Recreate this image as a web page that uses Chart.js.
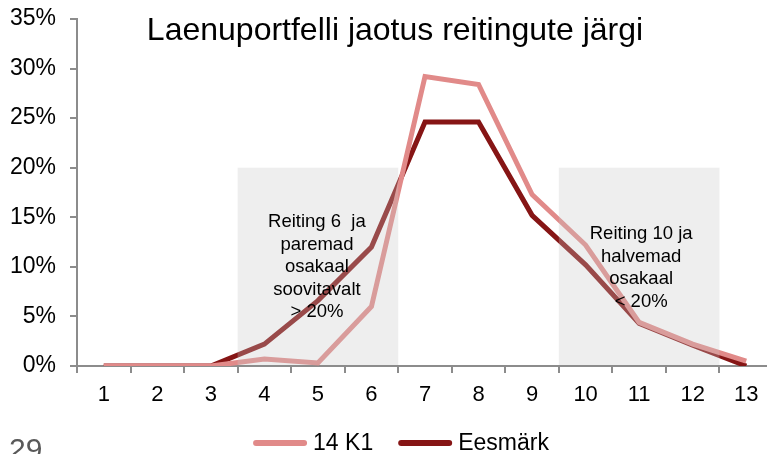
<!DOCTYPE html>
<html>
<head>
<meta charset="utf-8">
<style>
	html, body { margin: 0; padding: 0; background: #fff; overflow: hidden; }
	#chart { display: block; }
</style>
<script src="https://cdn.jsdelivr.net/npm/chart.js@4/dist/chart.umd.min.js"></script>
</head>
<body>
<canvas id="chart" width="775" height="454"></canvas>
<script>
// reitingud
var ratings = ['1','2','3','4','5','6','7','8','9','10','11','12','13'];
// osakaal, %
var k1 = [0, 0, 0, 0.7, 0.3, 6.0, 29.2, 28.4, 17.3, 12.2, 4.4, 2.2, 0.5];
var eesmark = [0, 0, 0, 2.2, 6.6, 12.0, 24.6, 24.6, 15.2, 10.2, 4.3, 2.1, 0];
var yTicks = [0, 5, 10, 15, 20, 25, 30, 35];
// hallid alad: reitingute vahemik ja ülemine piir (%)
var bandFrom = [3.5, 9.5];
var bandTo = [6.5, 12.5];
var bandTop = 20;
var bandText = [
	['Reiting 6  ja', 'paremad', 'osakaal', 'soovitavalt', '> 20%'],
	['Reiting 10 ja', 'halvemad', 'osakaal', '< 20%']
];
var title = 'Laenuportfelli jaotus reitingute järgi';
var pageNo = '29';

var FONT = '"Liberation Sans", Arial, sans-serif';

var overlay = {
	id: 'overlay',
	afterDatasetsDraw: function(chart) {
		var ctx = chart.ctx, x = chart.scales.x, y = chart.scales.y;
		ctx.save();
		for (var i = 0; i < bandFrom.length; i++) {
			var l = x.getPixelForValue(bandFrom[i] - 1);
			var r = x.getPixelForValue(bandTo[i] - 1);
			var t = y.getPixelForValue(bandTop);
			var b = y.getPixelForValue(0);
			ctx.fillStyle = 'rgba(200,200,200,0.3)';
			ctx.fillRect(l, t, r - l, b - t - 1);
			// tekst
			ctx.fillStyle = '#000';
			ctx.font = '18.5px ' + FONT;
			ctx.textAlign = 'center';
			ctx.textBaseline = 'alphabetic';
			var lines = bandText[i];
			var cx = (l + r) / 2 + (i == 0 ? -1 : 2);
			var y0 = i == 0 ? 227 : 239;
			for (var j = 0; j < lines.length; j++) {
				ctx.fillText(lines[j], cx, y0 + j * 22.5);
			}
		}
		ctx.restore();
	},
	afterDraw: function(chart) {
		var ctx = chart.ctx;
		ctx.save();
		// pealkiri
		ctx.fillStyle = '#000';
		ctx.font = '32px ' + FONT;
		ctx.textAlign = 'center';
		ctx.textBaseline = 'alphabetic';
		ctx.fillText(title, 395, 40);
		// lehekülje number
		ctx.fillStyle = '#595959';
		ctx.font = '30px ' + FONT;
		ctx.textAlign = 'left';
		ctx.fillText(pageNo, 9, 459);
		// legend
		ctx.font = '23px ' + FONT;
		var ds = chart.data.datasets;
		var lineLen = 54, gap = 6, itemGap = 25, total = 0;
		for (var i = 0; i < ds.length; i++) {
			total += lineLen + gap + ctx.measureText(ds[i].label).width;
			if (i) total += itemGap;
		}
		var lx = 401 - total / 2, ly = 443;
		ctx.textBaseline = 'middle';
		for (var i = 0; i < ds.length; i++) {
			ctx.strokeStyle = ds[i].borderColor;
			ctx.lineWidth = 6;
			ctx.lineCap = 'round';
			ctx.beginPath();
			ctx.moveTo(lx + 3, ly);
			ctx.lineTo(lx + lineLen - 3, ly);
			ctx.stroke();
			lx += lineLen + gap;
			ctx.fillStyle = '#000';
			ctx.fillText(ds[i].label, lx, ly + 1);
			lx += ctx.measureText(ds[i].label).width + itemGap;
		}
		ctx.restore();
	}
};

new Chart(document.getElementById('chart'), {
	type: 'line',
	data: {
		labels: ratings,
		datasets: [
			{ label: '14 K1', data: k1, borderColor: '#E18A89', backgroundColor: '#E18A89', borderWidth: 5, pointRadius: 0, tension: 0 },
			{ label: 'Eesmärk', data: eesmark, borderColor: '#861515', backgroundColor: '#861515', borderWidth: 5, pointRadius: 0, tension: 0 }
		]
	},
	options: {
		responsive: false,
		animation: false,
		layout: { padding: { top: 19, right: 2, left: 0, bottom: 0 } },
		plugins: {
			legend: { display: false },
			title: { display: false },
			tooltip: { enabled: false }
		},
		scales: {
			x: {
				offset: true,
				grid: { offset: true, drawOnChartArea: false, drawTicks: true, tickLength: 7, color: '#8c8c8c', lineWidth: 2 },
				border: { color: '#8c8c8c', width: 2 },
				ticks: { color: '#000', font: { family: FONT, size: 22 }, padding: 9, maxRotation: 0, autoSkip: false },
				afterFit: function(s) { s.height = 88; s.paddingLeft = 0; s.paddingRight = 0; }
			},
			y: {
				min: 0,
				max: 35,
				afterBuildTicks: function(s) { s.ticks = yTicks.map(function(v) { return { value: v }; }); },
				grid: { drawOnChartArea: false, drawTicks: true, tickLength: 7, color: '#8c8c8c', lineWidth: 2 },
				border: { color: '#8c8c8c', width: 2 },
				ticks: { color: '#000', font: { family: FONT, size: 23 }, padding: 14, callback: function(v) { return v + '%'; } },
				afterFit: function(s) { s.width = 77; s.paddingTop = 0; s.paddingBottom = 0; }
			}
		}
	},
	plugins: [overlay]
});
</script>
</body>
</html>
